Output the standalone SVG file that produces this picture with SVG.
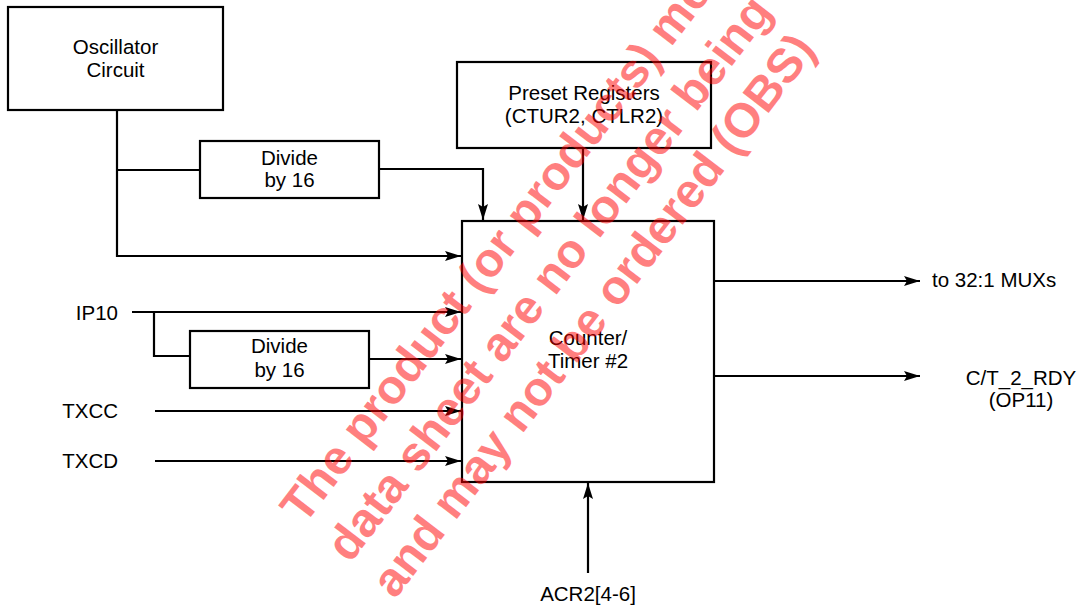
<svg xmlns="http://www.w3.org/2000/svg" width="1082" height="611" viewBox="0 0 1082 611">
<style>
.box{fill:#fff;stroke:#000;stroke-width:2.2}
.t{font-family:"Liberation Sans",Arial,Helvetica,sans-serif;font-size:20.5px;fill:#000}
.c{text-anchor:middle}
.r{text-anchor:end}
.w{font-family:"Liberation Sans",Arial,Helvetica,sans-serif;font-weight:bold;font-size:48px;fill:#ff0000;fill-opacity:0.5}
#connectors path{fill:none;stroke:#000;stroke-width:2.2}
</style>
<defs>
<marker id="ah" markerUnits="userSpaceOnUse" markerWidth="20" markerHeight="12" refX="16" refY="5" orient="auto" viewBox="0 0 20 12">
<path d="M0,0 L16,5 L0,10 L3,5 z" fill="#000"/>
</marker>
</defs>
<g id="connectors">
<path d="M117 110 V256 H461" marker-end="url(#ah)"/>
<path d="M117 170 H200"/>
<path d="M379 169 H483 V220" marker-end="url(#ah)"/>
<path d="M583 148 V220" marker-end="url(#ah)"/>
<path d="M132 312 H461" marker-end="url(#ah)"/>
<path d="M154 312 V356 H190"/>
<path d="M369 359 H461" marker-end="url(#ah)"/>
<path d="M155 411 H461" marker-end="url(#ah)"/>
<path d="M155 461 H461" marker-end="url(#ah)"/>
<path d="M714 281 H920" marker-end="url(#ah)"/>
<path d="M714 376 H920" marker-end="url(#ah)"/>
<path d="M588 573 V483" marker-end="url(#ah)"/>
</g>
<g id="oscillator">
<rect class="box" x="8" y="7" width="215" height="103"/>
<text class="t c" x="115.5" y="54">Oscillator</text>
<text class="t c" x="115.5" y="77">Circuit</text>
</g>
<g id="divide1">
<rect class="box" x="200" y="141" width="179" height="57"/>
<text class="t c" x="289.5" y="165">Divide</text>
<text class="t c" x="289.5" y="187">by 16</text>
</g>
<g id="preset">
<rect class="box" x="457" y="62" width="254" height="86"/>
<text class="t c" x="584" y="100">Preset Registers</text>
<text class="t c" x="584" y="123">(CTUR2, CTLR2)</text>
</g>
<g id="counter">
<rect class="box" x="462" y="221" width="252" height="261"/>
<text class="t c" x="588" y="345">Counter/</text>
<text class="t c" x="588" y="368">Timer #2</text>
</g>
<g id="divide2">
<rect class="box" x="190" y="331" width="179" height="57"/>
<text class="t c" x="279.5" y="353">Divide</text>
<text class="t c" x="279.5" y="377">by 16</text>
</g>
<g id="ip10"><text class="t r" x="118" y="320">IP10</text></g>
<g id="txcc"><text class="t r" x="118" y="418">TXCC</text></g>
<g id="txcd"><text class="t r" x="118" y="468">TXCD</text></g>
<g id="mux"><text class="t" x="932" y="287">to 32:1 MUXs</text></g>
<g id="rdy">
<text class="t c" x="1021" y="385">C/T_2_RDY</text>
<text class="t c" x="1021" y="407">(OP11)</text>
</g>
<g id="acr2"><text class="t c" x="588" y="601">ACR2[4-6]</text></g>
<g id="watermark">
<text class="w" transform="translate(304,526) rotate(-52.5)">The product (or products) me</text>
<text class="w" transform="translate(350,564) rotate(-52.5)">data sheet are no longer being</text>
<text class="w" transform="translate(395,600) rotate(-52.5)">and may not be ordered (OBS)</text>
</g>
</svg>
